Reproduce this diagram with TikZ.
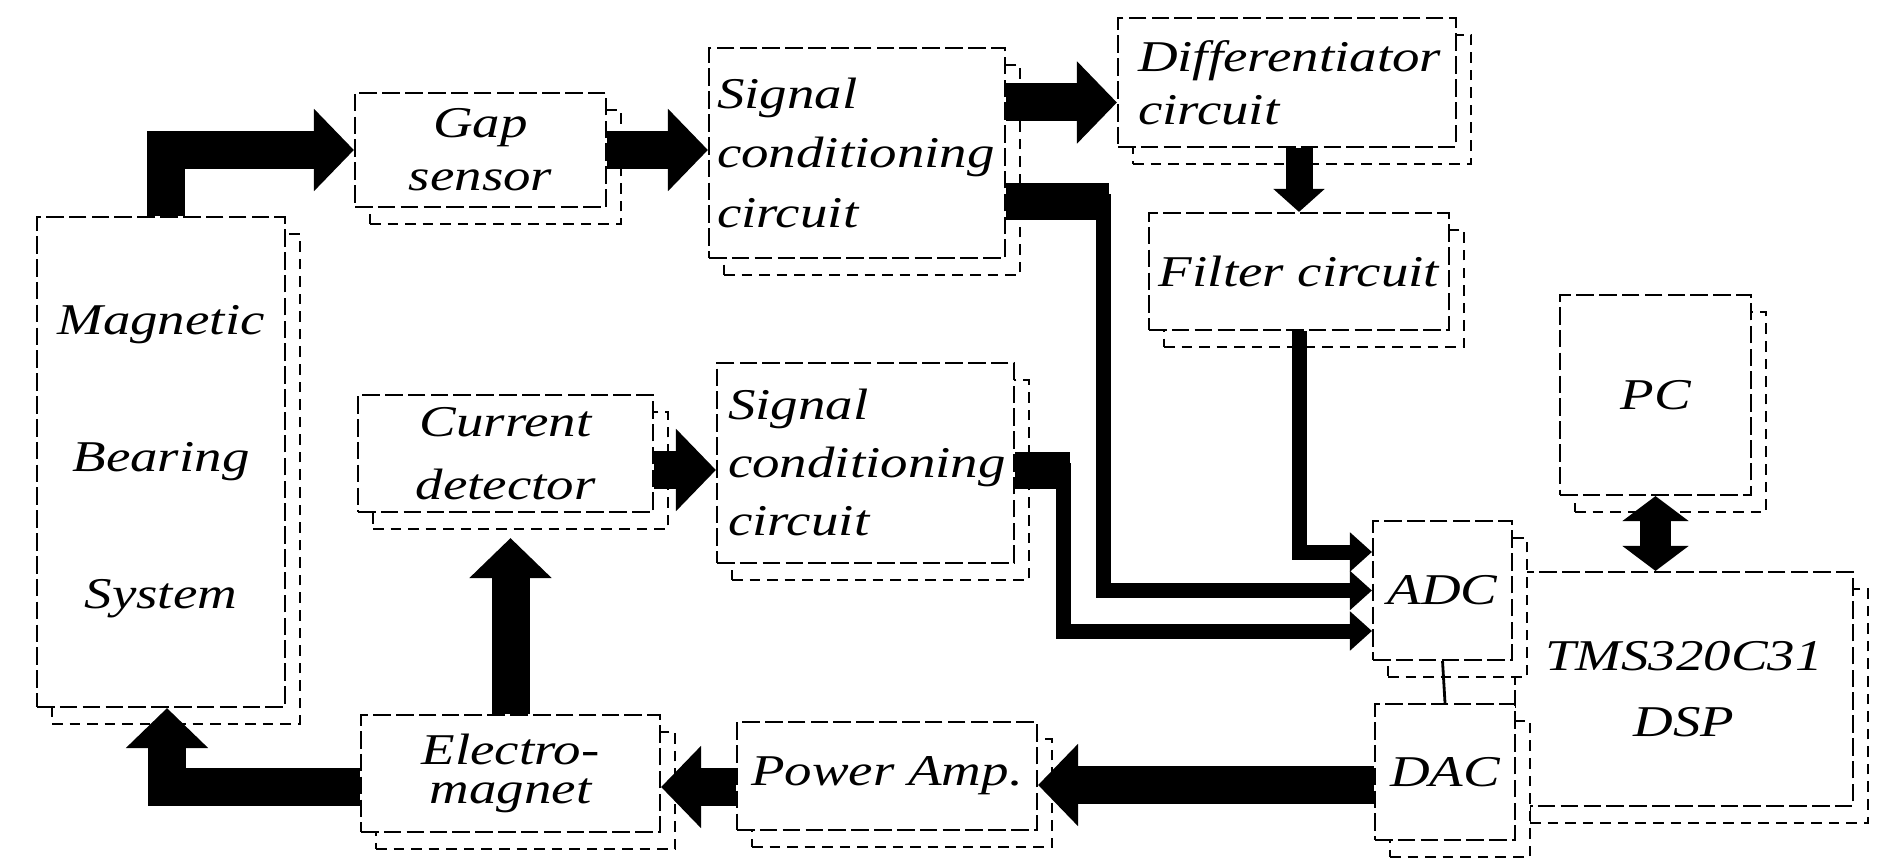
\documentclass[tikz,border=0pt]{standalone}
\usepackage{fontspec}
\setmainfont{Liberation Serif}[FakeStretch=1.25]
\usetikzlibrary{arrows.meta,positioning,shadows}
\tikzset{
  blk/.style={draw,rectangle,line width=0.6pt,dash pattern=on 5pt off 1.5pt,fill=white,inner sep=0.1cm,align=center,
    font=\itshape\fontsize{12.5}{15}\selectfont,
    general shadow={draw,line width=0.6pt,dash pattern=on 3pt off 2pt,fill=white,shadow xshift=0.15cm,shadow yshift=-0.17cm}},
  lblk/.style={blk,align=left},
  arr/.style={line width=0.38cm,line join=miter,-{Triangle[length=0.4cm,width=0.8cm]}},
  marr/.style={line width=0.27cm,-{Triangle[length=0.23cm,width=0.5cm]}},
  narr/.style={line width=0.15cm,line join=miter,-{Triangle[length=0.22cm,width=0.38cm]}},
  stub/.style={line width=0.37cm},
  darr/.style={line width=0.31cm,{Triangle[length=0.25cm,width=0.65cm]}-{Triangle[length=0.25cm,width=0.65cm]}}
}
\begin{document}
\begin{tikzpicture}
  \useasboundingbox (0,0) rectangle (18.92,8.6);
  % blocks
  \node[blk,minimum width=2.48cm,minimum height=4.9cm] (mbs) at (1.61,3.98) {Magnetic\\[24pt]Bearing\\[24pt]System};
  \node[blk,minimum width=2.51cm,minimum height=1.14cm] (gap) at (4.805,7.10) {Gap\\sensor};
  \node[lblk,text width=2.8cm,inner xsep=0.08cm,minimum height=2.1cm] (sct) at (8.57,7.07) {Signal\\[2pt]conditioning\\[2pt]circuit};
  \node[lblk,text width=2.98cm,inner xsep=0.2cm,minimum height=1.29cm] (dif) at (12.87,7.775) {Differentiator\\circuit};
  \node[blk,minimum width=3cm,minimum height=1.17cm] (flt) at (12.99,5.885) {Filter circuit};
  \node[blk,minimum width=1.91cm,minimum height=2cm] (pc) at (16.555,4.65) {PC};
  \node[blk,minimum width=2.95cm,minimum height=1.17cm] (cur) at (5.055,4.065) {Current\\[3pt]detector};
  \node[lblk,text width=2.75cm,inner xsep=0.11cm,minimum height=2cm] (scl) at (8.655,3.97) {Signal\\[1.5pt]conditioning\\[1.5pt]circuit};
  \node[blk,minimum width=2.99cm,minimum height=1.17cm] (em) at (5.105,0.865) {Electro-\\[-4pt]magnet};
  \node[blk,minimum width=3cm,minimum height=1.08cm] (amp) at (8.87,0.84) {Power Amp.};
  \node[blk,minimum width=3.38cm,minimum height=2.34cm] (dsp) at (16.84,1.71) {TMS320C31\\[4pt]DSP};
  \node[blk,minimum width=1.39cm,minimum height=1.39cm] (adc) at (14.425,2.695) {ADC};
  \node[blk,minimum width=1.4cm,minimum height=1.36cm] (dac) at (14.45,0.88) {DAC};

  % helper points
  \coordinate (dd) at ([yshift=-0.2cm]dif.west);
  \coordinate (cc) at ([yshift=-0.165cm]cur.east);
  \coordinate (aa) at ([yshift=-0.11cm]amp.west);
  \coordinate (da) at ([yshift=-0.13cm]dac.west);

  % signal paths
  \draw[arr] ([xshift=0.05cm]mbs.north) |- (gap.west);
  \draw[arr] (gap.east) -- (gap.east -| sct.west);
  \draw[arr] (dd -| sct.east) -- (dd);
  \draw[marr] (flt.north |- dif.south) -- (flt.north);
  \draw[narr] (flt.south) |- ([yshift=0.385cm]adc.west);
  \draw[stub] ([yshift=-0.49cm]sct.east) -- ++(1.03,0);
  \draw[narr] ([yshift=-0.49cm]sct.east) -- ++(0.97,0) |- (adc.west);
  \draw[stub] ([yshift=-0.07cm]scl.east) -- ++(0.55,0);
  \draw[narr] ([yshift=-0.07cm]scl.east) -- ++(0.48,0) |- ([yshift=-0.405cm]adc.west);
  \draw[arr] (cc) -- (cc -| scl.west);
  \draw[arr,shorten >=0.25cm] (em.north) -- (em.north |- cur.south);
  \draw[arr] ([yshift=-0.135cm]em.west) -| ([xshift=0.06cm]mbs.south);
  \draw[arr] (aa) -- (aa -| em.east);
  \draw[arr] (da) -- (da -| amp.east);
  \draw[darr] (pc.south) -- (pc.south |- dsp.north);
  \draw[line width=0.8pt] (adc.south) -- (dac.north);
\end{tikzpicture}
\end{document}
